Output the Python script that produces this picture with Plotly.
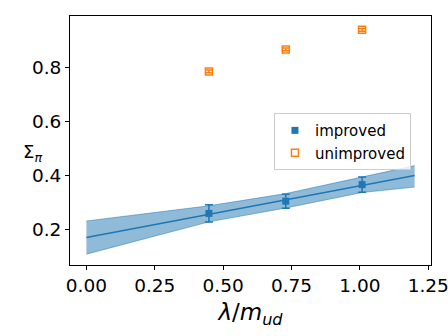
import plotly.graph_objects as go

# measured points (lambda / m_ud)
lam = [0.448, 0.729, 1.008]
sigma_improved = [0.261, 0.306, 0.367]
err_improved = [0.032, 0.026, 0.028]
sigma_unimproved = [0.784, 0.865, 0.937]
err_unimproved = [0.005, 0.005, 0.005]

# linear fit with error band
fit_x = [0.0, 0.448, 0.729, 1.008, 1.2]
fit_center = [0.172, 0.258, 0.311, 0.365, 0.401]
fit_low = [0.111, 0.230, 0.281, 0.338, 0.358]
fit_high = [0.233, 0.289, 0.334, 0.395, 0.437]

blue = "#1f77b4"
orange = "#ff7f0e"
band = "rgba(31,119,180,0.5)"

fig = go.Figure()

# error band
fig.add_trace(go.Scatter(
    x=fit_x, y=fit_low, mode="lines",
    line=dict(color=band, width=1), showlegend=False, hoverinfo="skip",
))
fig.add_trace(go.Scatter(
    x=fit_x, y=fit_high, mode="lines", fill="tonexty", fillcolor=band,
    line=dict(color=band, width=1), showlegend=False, hoverinfo="skip",
))
fig.add_trace(go.Scatter(
    x=fit_x, y=fit_center, mode="lines",
    line=dict(color=blue, width=1.5), showlegend=False,
))

fig.add_trace(go.Scatter(
    name="improved", x=lam, y=sigma_improved, mode="markers",
    marker=dict(symbol="square", size=7, color=blue),
    error_y=dict(type="data", array=err_improved, color=blue, thickness=1.5, width=4),
))
fig.add_trace(go.Scatter(
    name="unimproved", x=lam, y=sigma_unimproved, mode="markers",
    marker=dict(symbol="square-open", size=7, color=orange, line=dict(width=1.5)),
    error_y=dict(type="data", array=err_unimproved, color=orange, thickness=1.5, width=4),
))

axis_common = dict(
    showline=True, mirror=True, linecolor="black", linewidth=1,
    ticks="outside", ticklen=4, tickcolor="black",
    showgrid=False, zeroline=False, automargin=False,
    ticklabeloverflow="allow",
    tickfont=dict(size=18.5, color="black"),
)

fig.update_xaxes(
    range=[-0.06, 1.26], tickvals=[0, 0.25, 0.5, 0.75, 1.0, 1.25], tickformat=".2f",
    title=dict(text="<i>λ</i>/<i>m</i><sub><i>ud</i></sub>", font=dict(size=23, color="black"), standoff=8),
    **axis_common,
)
fig.update_yaxes(
    range=[0.071, 0.988], tickvals=[0.2, 0.4, 0.6, 0.8], tickformat=".1f",
    **axis_common,
)

fig.add_annotation(
    text="Σ<sub><i>π</i></sub>", xref="paper", yref="paper",
    x=-0.105, y=0.45, xanchor="center", yanchor="middle",
    showarrow=False, font=dict(size=18, color="black"),
)

fig.update_layout(
    width=448, height=336,
    margin=dict(l=70, r=17, t=16, b=71),
    paper_bgcolor="white", plot_bgcolor="white",
    font=dict(family="DejaVu Sans", color="black"),
    legend=dict(
        x=0.565, y=0.61, xanchor="left", yanchor="top",
        traceorder="normal",
        bgcolor="rgba(255,255,255,0.8)", bordercolor="#cccccc", borderwidth=1,
        font=dict(size=15), tracegroupgap=0,
    ),
)

# drop the page's default 8px body margin so the figure fills the window
fig.write_html(
    "out.html",
    config={"displayModeBar": False},
    post_script="document.body.style.margin='0px';",
)
